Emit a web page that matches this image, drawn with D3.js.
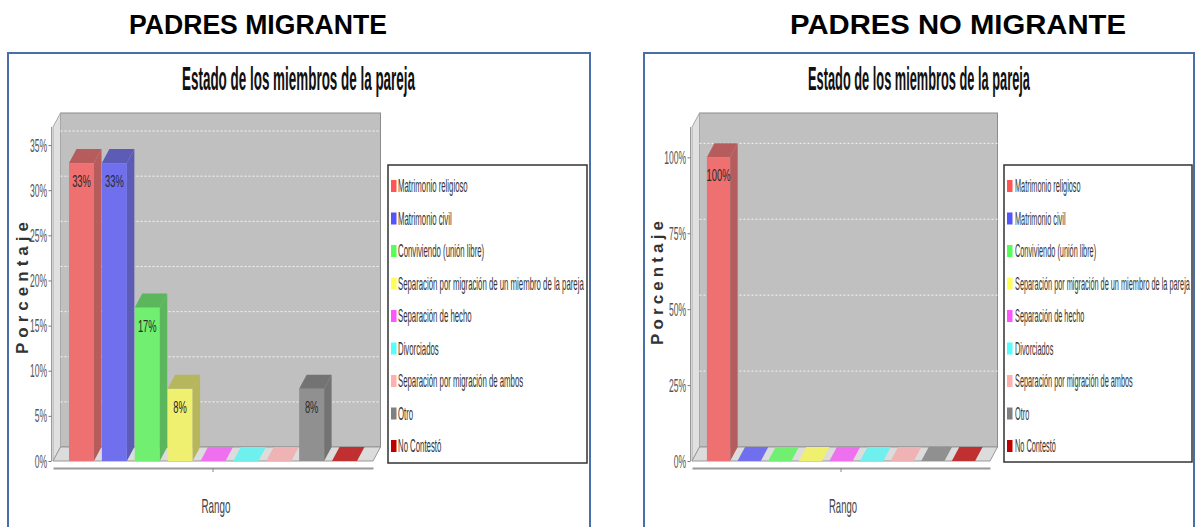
<!DOCTYPE html>
<html>
<head>
<meta charset="utf-8">
<script src="https://cdn.jsdelivr.net/npm/d3@7"></script>
<style>
  body { margin: 0; background: #fff; }
  svg { display: block; }
</style>
</head>
<body>
<svg id="chart" width="1196" height="527"></svg>
<script>
// ---- data ----
const categories = [
  "Matrimonio religioso",
  "Matrimonio civil",
  "Conviviendo (unión libre)",
  "Separación por migración de un miembro de la pareja",
  "Separación de hecho",
  "Divorciados",
  "Separación por migración de ambos",
  "Otro",
  "No Contestó"
];
const seriesColors = ["#ff5555", "#5555ff", "#55ff55", "#ffff55", "#ff55ff", "#55ffff", "#ffafaf", "#808080", "#c00000"];
const migranteValues = [33, 33, 17, 8, 0, 0, 0, 8, 0];
const noMigranteValues = [100, 0, 0, 0, 0, 0, 0, 0, 0];
const migranteTicks = [0, 5, 10, 15, 20, 25, 30, 35];
const noMigranteTicks = [0, 25, 50, 75, 100];
const axisMax = [37, 110];
const headings = ["PADRES MIGRANTE", "PADRES NO MIGRANTE"];
const chartTitle = "Estado de los miembros de la pareja";
const yAxisTitle = "Porcentaje";
const xAxisTitle = "Rango";

// ---- layout of the two panels ----
const panels = [
  {
    heading: headings[0], values: migranteValues, ticks: migranteTicks, max: axisMax[0],
    headCx: 258, headW: 258, box: { x: 8, y: 53, w: 582, h: 500 },
    titleCx: 298.5, titleW: 233,
    x0: 53, x1: 373, floorY: 461, topY: 127,
    legend: { x: 388, y: 165, w: 199, h: 298 }, swatchX: 391, textX: 398, longW: 186,
    yTitleX: 28, yTitleCy: 288, yTitleLen: 132,
    xTitleCx: 216, xTitleW: 29
  },
  {
    heading: headings[1], values: noMigranteValues, ticks: noMigranteTicks, max: axisMax[1],
    headCx: 958, headW: 336, box: { x: 644, y: 53, w: 550, h: 500 },
    titleCx: 919, titleW: 222,
    x0: 692, x1: 990, floorY: 461, topY: 127,
    legend: { x: 1004, y: 165, w: 188, h: 297 }, swatchX: 1007, textX: 1015, longW: 175,
    yTitleX: 663, yTitleCy: 283, yTitleLen: 124,
    xTitleCx: 843, xTitleW: 28
  }
];

const DX = 7.5, DY = -14;          // 3D depth offset
const WALL = "#c0c0c0";
const FONT = "'Liberation Sans', Arial, sans-serif";

// colour painted at 75% over the grey wall
function overWall(c) {
  const a = d3.rgb(c), w = d3.rgb(WALL);
  return d3.rgb(a.r * 0.75 + w.r * 0.25, a.g * 0.75 + w.g * 0.25, a.b * 0.75 + w.b * 0.25).formatHex();
}
function darker(c) {
  const a = d3.rgb(c);
  return d3.rgb(Math.floor(a.r * 0.7), Math.floor(a.g * 0.7), Math.floor(a.b * 0.7)).formatHex();
}
// narrow text: horizontally squeezed by sx
function narrowText(parent, x, y, str, size, sx, anchor, fill, weight) {
  return parent.append("text")
    .attr("transform", `translate(${x},${y}) scale(${sx},1)`)
    .attr("text-anchor", anchor || "start")
    .attr("font-family", FONT)
    .attr("font-size", size)
    .attr("font-weight", weight || "normal")
    .attr("fill", fill || "#333")
    .text(str);
}
// narrow text fitted to a given width
function fittedText(parent, x, y, str, size, width, anchor, fill, weight) {
  const t = narrowText(parent, x, y, str, size, 1, anchor, fill, weight);
  const sx = width / t.node().getComputedTextLength();
  t.attr("transform", `translate(${x},${y}) scale(${sx},1)`);
  return t;
}
const pts = a => a.map(p => p.join(",")).join(" ");

const svg = d3.select("#chart");

panels.forEach(p => {
  const g = svg.append("g");

  // panel frame
  g.append("rect")
    .attr("x", p.box.x).attr("y", p.box.y).attr("width", p.box.w).attr("height", p.box.h)
    .attr("fill", "#fff").attr("stroke", "#4a6fa8").attr("stroke-width", 2);

  // heading above the panel
  fittedText(g, p.headCx, 33.5, p.heading, 28.5, p.headW, "middle", "#000", "bold");

  // chart title
  fittedText(g, p.titleCx, 90, chartTitle, 34, p.titleW, "middle", "#111", "bold");

  // scales
  const y = d3.scaleLinear().domain([0, p.max]).range([p.floorY, p.topY]);
  const span = p.x1 - p.x0;
  const x = d3.scaleBand().domain(categories)
    .range([p.x0 + span * 0.05, p.x1 - span * 0.05])
    .paddingInner(0.24).paddingOuter(0);

  const fy = p.floorY, ty = p.topY;

  // back wall
  g.append("rect")
    .attr("x", p.x0 + DX).attr("y", ty + DY)
    .attr("width", span).attr("height", fy - ty)
    .attr("fill", WALL).attr("stroke", "#8c8c8c").attr("stroke-width", 1);

  // left side wall
  g.append("polygon")
    .attr("points", pts([[p.x0, fy], [p.x0, ty], [p.x0 + DX, ty + DY], [p.x0 + DX, fy + DY]]))
    .attr("fill", "#e0e0e0").attr("stroke", "#a8a8a8").attr("stroke-width", 1);

  // floor
  g.append("polygon")
    .attr("points", pts([[p.x0, fy], [p.x0 + DX, fy + DY], [p.x1 + DX, fy + DY], [p.x1, fy]]))
    .attr("fill", "#dcdcdc").attr("stroke", "#999").attr("stroke-width", 1);

  // gridlines on the back wall
  g.append("g").selectAll("line")
    .data(p.ticks.filter(t => t > 0))
    .join("line")
    .attr("x1", p.x0 + DX).attr("x2", p.x1 + DX)
    .attr("y1", d => y(d) + DY).attr("y2", d => y(d) + DY)
    .attr("stroke", "#f4f4f4").attr("stroke-width", 1).attr("stroke-dasharray", "2,2");

  // bars
  const bars = g.append("g");
  p.values.forEach((v, i) => {
    const bx = x(categories[i]), bw = x.bandwidth();
    const top = y(v);
    const base = overWall(seriesColors[i]);
    const shade = overWall(darker(seriesColors[i]));
    if (v > 0) {
      bars.append("rect")
        .attr("x", bx).attr("y", top).attr("width", bw).attr("height", fy - top)
        .attr("fill", base);
      bars.append("polygon")
        .attr("points", pts([[bx, top], [bx + DX, top + DY], [bx + bw + DX, top + DY], [bx + bw, top]]))
        .attr("fill", shade);
      bars.append("polygon")
        .attr("points", pts([[bx + bw, top], [bx + bw + DX, top + DY], [bx + bw + DX, fy + DY], [bx + bw, fy]]))
        .attr("fill", shade);
      narrowText(bars, bx + bw / 2, top + 24, d3.format(".0f")(v) + "%", 17, 0.55, "middle", "#2a2a2a");
    } else {
      bars.append("polygon")
        .attr("points", pts([[bx, fy], [bx + DX, fy + DY], [bx + bw + DX, fy + DY], [bx + bw, fy]]))
        .attr("fill", base);
    }
  });

  // value axis
  const sxTick = 0.45;
  const yAxis = g.append("g")
    .attr("transform", `translate(${p.x0 - 1.5},0)`)
    .call(d3.axisLeft(y).tickValues(p.ticks).tickFormat(d => d + "%").tickSize(3).tickSizeOuter(0));
  yAxis.select(".domain").attr("stroke", "#9a9a9a").attr("d", `M0,${ty}V${fy}`);
  yAxis.selectAll(".tick line").attr("stroke", "#777");
  yAxis.selectAll(".tick text")
    .attr("x", -4.5 / sxTick)
    .attr("transform", `scale(${sxTick},1)`)
    .attr("font-family", FONT).attr("font-size", 19).attr("fill", "#555");

  // category axis (single category)
  const xCat = d3.scaleBand().domain([""]).range([p.x0, p.x1]);
  const xAxis = g.append("g")
    .attr("transform", `translate(0,${fy + 7})`)
    .call(d3.axisBottom(xCat).tickSize(4).tickSizeOuter(0));
  xAxis.select(".domain").attr("stroke", "#9a9a9a").attr("stroke-width", 2);
  xAxis.selectAll(".tick line").attr("stroke", "#888");
  xAxis.selectAll(".tick text").remove();

  // axis titles
  g.append("text")
    .attr("transform", `translate(${p.yTitleX},${p.yTitleCy}) rotate(-90)`)
    .attr("text-anchor", "middle")
    .attr("font-family", FONT).attr("font-weight", "bold").attr("font-size", 17)
    .attr("textLength", p.yTitleLen).attr("lengthAdjust", "spacing")
    .attr("fill", "#333")
    .text(yAxisTitle);
  fittedText(g, p.xTitleCx, 513, xAxisTitle, 20, p.xTitleW, "middle", "#444");

  // legend
  const lg = g.append("g");
  lg.append("rect")
    .attr("x", p.legend.x).attr("y", p.legend.y).attr("width", p.legend.w).attr("height", p.legend.h)
    .attr("fill", "#fff").attr("stroke", "#333").attr("stroke-width", 1.5);

  // squeeze factor from the longest entry
  const probe = lg.append("text").attr("font-family", FONT).attr("font-size", 17.5)
    .text(categories[3]);
  const sxLeg = p.longW / probe.node().getComputedTextLength();
  probe.remove();

  categories.forEach((c, i) => {
    const cy = 186 + i * 32.5;
    lg.append("rect")
      .attr("x", p.swatchX).attr("y", cy - 6).attr("width", 5.5).attr("height", 12)
      .attr("fill", seriesColors[i]);
    narrowText(lg, p.textX, cy + 6, c, 17.5, sxLeg, "start", "#333");
  });
});
</script>
</body>
</html>
